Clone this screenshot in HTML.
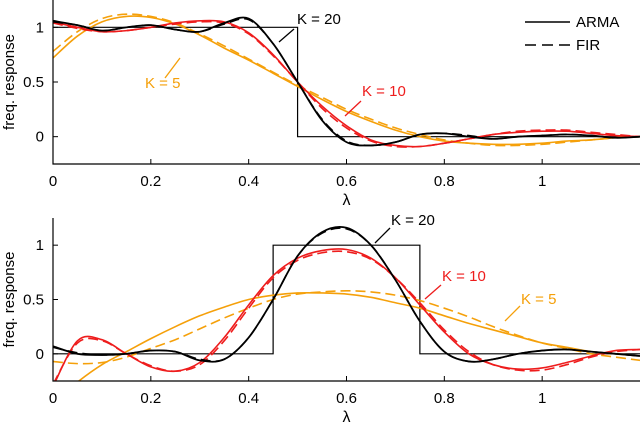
<!DOCTYPE html>
<html><head><meta charset="utf-8"><style>
body{margin:0;background:#fff;}
svg{display:block;font-family:"Liberation Sans",Arial,sans-serif;}
</style></head><body>
<svg id="c" width="640" height="422" viewBox="0 0 640 422"></svg>
<script>
const lambdas=[0,0.05,0.1,0.15,0.2,0.25,0.3,0.35,0.4,0.45,0.5,0.55,0.6,0.65,0.7,0.75,0.8,0.85,0.9,0.95,1.0,1.05,1.1,1.15,1.2];
const xTicks=[0,0.2,0.4,0.6,0.8,1];
const xTickLabels=["0","0.2","0.4","0.6","0.8","1"];
const yTicks=[0,0.5,1];
const yTickLabels=["0","0.5","1"];
// top panel (low-pass)
const topIdealX=[0,0.5,0.5,1.2];
const topIdealY=[1,1,0,0];
const topArma20=[1.06,1.02,0.97,1.0,1.02,0.98,0.96,1.04,1.08,0.85,0.5,0.15,-0.05,-0.08,-0.05,0.02,0.03,0.0,-0.02,0.0,0.01,0.02,0.01,-0.01,0.0];
const topFir20=[1.05,1.02,0.97,1.0,1.02,0.98,0.96,1.03,1.07,0.85,0.5,0.16,-0.04,-0.08,-0.05,0.02,0.03,0.01,-0.02,0.0,0.01,0.02,0.01,-0.01,0.0];
const topArma10=[1.05,1.0,0.96,0.97,1.0,1.04,1.06,1.05,0.95,0.75,0.5,0.28,0.1,-0.03,-0.08,-0.09,-0.06,-0.02,0.02,0.04,0.05,0.05,0.03,0.01,0.0];
const topFir10=[1.04,0.99,0.96,0.97,1.0,1.03,1.05,1.04,0.94,0.74,0.5,0.26,0.08,-0.04,-0.09,-0.09,-0.06,-0.02,0.02,0.05,0.06,0.06,0.04,0.02,0.0];
const topArma5=[0.72,0.92,1.05,1.1,1.09,1.03,0.93,0.81,0.7,0.58,0.46,0.34,0.23,0.14,0.06,0.0,-0.04,-0.06,-0.07,-0.07,-0.06,-0.04,-0.03,-0.01,0.0];
const topFir5=[0.78,0.96,1.08,1.12,1.1,1.04,0.94,0.83,0.71,0.59,0.47,0.36,0.25,0.16,0.08,0.02,-0.03,-0.06,-0.08,-0.08,-0.07,-0.05,-0.03,-0.01,0.0];
// bottom panel (band-pass)
const botIdealX=[0,0.45,0.45,0.75,0.75,1.2];
const botIdealY=[0,0,1,1,0,0];
const botArma20=[0.07,0.0,-0.01,0.0,0.03,0.02,-0.06,-0.05,0.15,0.5,0.9,1.12,1.16,1.0,0.68,0.3,0.02,-0.07,-0.05,0.0,0.03,0.04,0.02,0.0,-0.02];
const botFir20=[0.06,0.01,-0.01,0.0,0.03,0.02,-0.05,-0.05,0.15,0.5,0.9,1.11,1.15,1.0,0.68,0.3,0.02,-0.07,-0.05,0.0,0.03,0.04,0.02,0.0,-0.02];
const botArma10=[-0.3,0.12,0.13,0.0,-0.12,-0.16,-0.08,0.15,0.45,0.72,0.88,0.95,0.96,0.88,0.7,0.45,0.2,0.0,-0.1,-0.14,-0.13,-0.08,-0.02,0.03,0.04];
const botFir10=[-0.28,0.1,0.12,0.0,-0.11,-0.16,-0.1,0.12,0.42,0.7,0.86,0.93,0.94,0.87,0.7,0.47,0.22,0.02,-0.1,-0.15,-0.15,-0.1,-0.03,0.02,0.04];
const botArma5=[-0.45,-0.26,-0.1,0.02,0.14,0.25,0.35,0.43,0.5,0.54,0.56,0.56,0.55,0.52,0.47,0.42,0.35,0.28,0.22,0.16,0.1,0.06,0.02,0.0,-0.02];
const botFir5=[-0.07,-0.09,-0.08,-0.03,0.05,0.13,0.23,0.33,0.42,0.5,0.55,0.57,0.58,0.57,0.54,0.49,0.42,0.34,0.25,0.17,0.1,0.05,0.0,-0.03,-0.06];

const NS="http://www.w3.org/2000/svg";
const svg=document.getElementById('c');
function mk(tag,attrs,parent){const e=document.createElementNS(NS,tag);for(const k in attrs)e.setAttribute(k,attrs[k]);(parent||svg).appendChild(e);return e;}

function panel(id,top,bottom,ideal,series,annots){
  const x0=53,x1=640;
  const y0v=-0.25,y1v=1.25;
  const X=v=>x0+(v-0)/(1.2)*(x1-x0);
  const Y=v=>bottom-(v-y0v)/(y1v-y0v)*(bottom-top);
  const g=mk('g',{});
  
  
  const cp=mk('clipPath',{id:id+'clip'},g);
  mk('rect',{x:x0,y:top,width:x1-x0,height:bottom-top},cp);
  let d='';ideal[0].forEach((v,i)=>{d+=(i?'L':'M')+X(v)+' '+Y(ideal[1][i]);});
  const ip=mk('path',{d:d,fill:'none',stroke:'#000','stroke-width':1.2},g);
  
  
  const cg=mk('g',{'clip-path':'url(#'+id+'clip)'},g);
  series.forEach(s=>{
    const pts=lambdas.map((l,i)=>[X(l),Y(s.v[i])]);
    let p='M'+pts[0][0]+' '+pts[0][1];
    for(let i=0;i<pts.length-1;i++){
      const a=pts[Math.max(i-1,0)],b=pts[i],c=pts[i+1],e=pts[Math.min(i+2,pts.length-1)];
      p+='C'+(b[0]+(c[0]-a[0])/6)+' '+(b[1]+(c[1]-a[1])/6)+' '+(c[0]-(e[0]-b[0])/6)+' '+(c[1]-(e[1]-b[1])/6)+' '+c[0]+' '+c[1];
    }
    const el=mk('path',{d:p,fill:'none',stroke:s.c,'stroke-width':s.w||1.6},cg);
    if(s.dash)el.setAttribute('stroke-dasharray','10 5');
    
    
  });
  const ax=mk('path',{d:'M'+x0+' '+top+'L'+x0+' '+bottom+'L'+x1+' '+bottom,fill:'none',stroke:'#000','stroke-width':1.2},g);
  
  
  xTicks.forEach((t,i)=>{
    mk('line',{x1:X(t),x2:X(t),y1:bottom,y2:bottom-5,stroke:'#000'},g);
    const tx=mk('text',{x:X(t),y:bottom+22,'font-size':15,'text-anchor':'middle'},g);
    tx.textContent=xTickLabels[i];
    
    
  });
  yTicks.forEach((t,i)=>{
    mk('line',{x1:x0,x2:x0+5,y1:Y(t),y2:Y(t),stroke:'#000'},g);
    const tx=mk('text',{x:x0-9,y:Y(t)+5,'font-size':15,'text-anchor':'end'},g);
    tx.textContent=yTickLabels[i];
    
    
  });
  const xl=mk('text',{x:X(0.6),y:bottom+41,'font-size':16,'text-anchor':'middle'},g);
  xl.textContent='λ';
  
  
  const yl=mk('text',{x:0,y:0,'font-size':15,'text-anchor':'middle',transform:'translate(14,'+Y(0.5)+') rotate(-90)'},g);
  yl.textContent='freq. response';
  
  
  annots.forEach(a=>{
    mk('line',{x1:a.l[0],y1:a.l[1],x2:a.l[2],y2:a.l[3],stroke:a.c,'stroke-width':1.3},g);
    const t=mk('text',{x:a.x,y:a.y,'font-size':15,fill:a.c},g);
    t.textContent=a.t;
    
    
  });
}
const BLK='#000',RED='#ee1c1c',ORG='#f5a00a';
panel('top',0,164,[topIdealX,topIdealY],[
  {v:topArma5,c:ORG,name:'top-arma-k5'},{v:topFir5,c:ORG,dash:1,name:'top-fir-k5'},
  {v:topArma10,c:RED,name:'top-arma-k10'},{v:topFir10,c:RED,dash:1,name:'top-fir-k10'},
  {v:topFir20,c:BLK,dash:1,name:'top-fir-k20'},{v:topArma20,c:BLK,w:1.8,name:'top-arma-k20'}
],[
  {t:'K = 20',x:297,y:24,c:BLK,l:[294,29,279,42],name:'top-k20-label'},
  {t:'K = 5',x:145,y:88,c:ORG,l:[165,78,180,58],name:'top-k5-label'},
  {t:'K = 10',x:362,y:96,c:RED,l:[361,101,345,116],name:'top-k10-label'}
]);
panel('bot',218,381,[botIdealX,botIdealY],[
  {v:botArma5,c:ORG,name:'bot-arma-k5'},{v:botFir5,c:ORG,dash:1,name:'bot-fir-k5'},
  {v:botArma10,c:RED,name:'bot-arma-k10'},{v:botFir10,c:RED,dash:1,name:'bot-fir-k10'},
  {v:botFir20,c:BLK,dash:1,name:'bot-fir-k20'},{v:botArma20,c:BLK,w:1.8,name:'bot-arma-k20'}
],[
  {t:'K = 20',x:391,y:225,c:BLK,l:[390,228,375,243],name:'bot-k20-label'},
  {t:'K = 10',x:442,y:281,c:RED,l:[441,285,425,299],name:'bot-k10-label'},
  {t:'K = 5',x:521,y:304,c:ORG,l:[520,306,505,321],name:'bot-k5-label'}
]);
const lg=mk('g',{});


mk('line',{x1:525,x2:570,y1:22,y2:22,stroke:'#000','stroke-width':1.4},lg);
const t1=mk('text',{x:576,y:27,'font-size':15},lg);t1.textContent='ARMA';


mk('line',{x1:525,x2:570,y1:45,y2:45,stroke:'#000','stroke-width':1.4,'stroke-dasharray':'11 6'},lg);
const t2=mk('text',{x:576,y:50,'font-size':15},lg);t2.textContent='FIR';


</script>
</body></html>
